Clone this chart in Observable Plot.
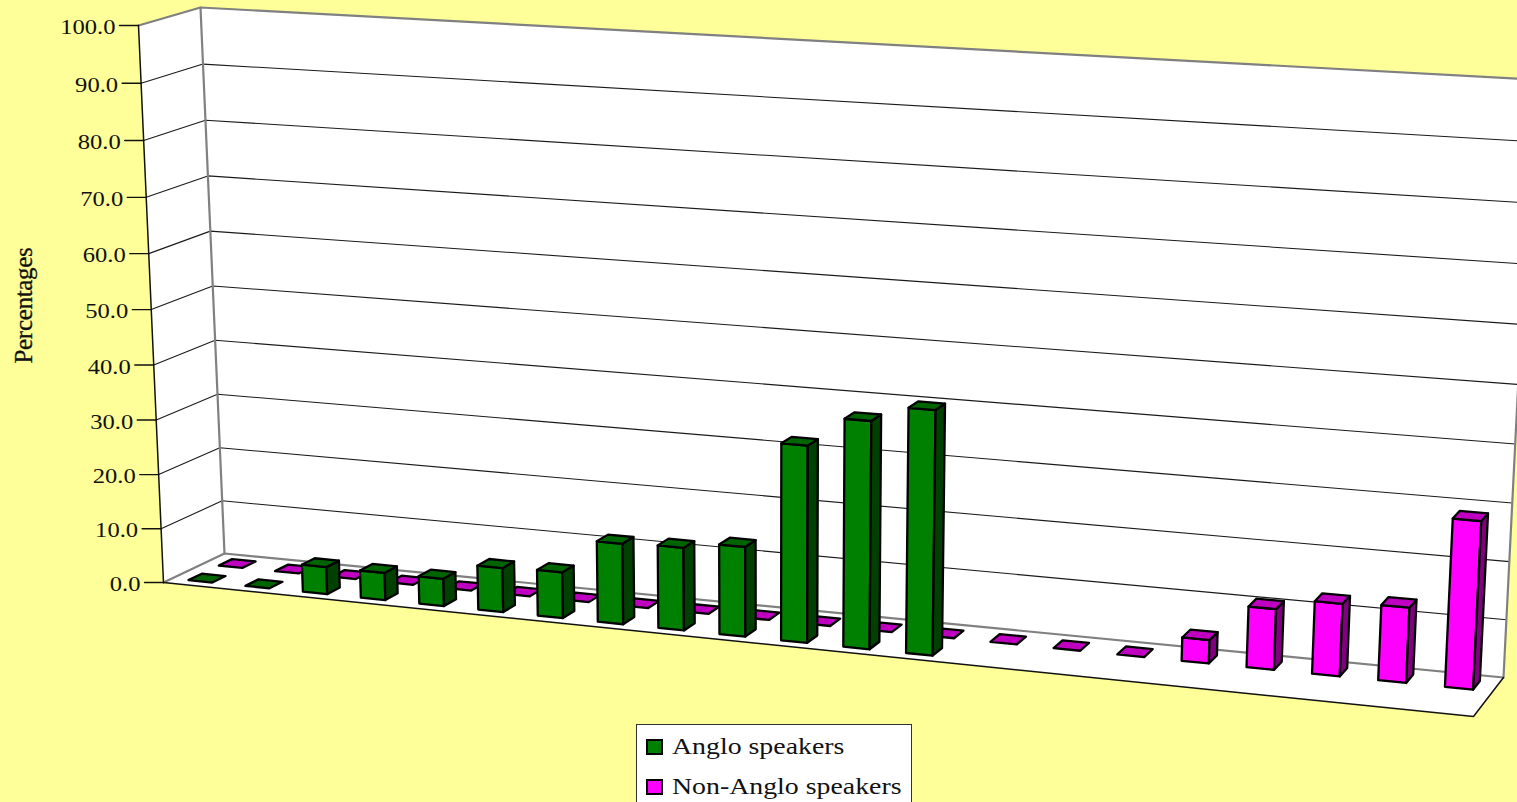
<!DOCTYPE html>
<html>
<head>
<meta charset="utf-8">
<script src="https://cdn.jsdelivr.net/npm/d3@7"></script>
<script src="https://cdn.jsdelivr.net/npm/@observablehq/plot@0.6"></script>
<style>
  html, body { margin: 0; padding: 0; background: #ffff99; overflow: hidden; }
  #chart { position: relative; width: 1517px; height: 802px; overflow: hidden; }
  #chart svg { display: block; }
  #legend {
    position: absolute; left: 636px; top: 724px; width: 274px; height: 90px;
    background: #fff; border: 1px solid #333;
    font: 23px "Liberation Serif", serif; color: #111;
  }
  #legend div { position: absolute; left: 35px; white-space: nowrap; line-height: 24px; }
  #legend span { display: inline-block; transform: scaleX(1.21); transform-origin: left center; }
  #legend i { position: absolute; left: -26px; top: 4px; width: 13px; height: 12px; border: 2px solid #000; }
</style>
</head>
<body>
<div id="chart">
  <div id="legend"></div>
</div>
<script>
// Share of each speaker group per category; a missing entry means no bar at all.
const categoryCount = 21;
const angloValues = [0, 0, 5, 5, 5, 8, 8.3, 14.5, 14.8, 16, 34.8, 40, 42.8];
const nonAngloValues = [0, 0, 0, 0, 0, 0, 0, 0, 0, 0, 0, 0, 0, 0, 0, 0, 4.1, 10.6, 12.6, 13, 28.8];
const valueTicks = [0, 10, 20, 30, 40, 50, 60, 70, 80, 90, 100];
const seriesNames = ["Anglo speakers", "Non-Anglo speakers"];
const seriesColors = [
  {front: "#008000", top: "#006400", side: "#004000"},
  {front: "#ff00ff", top: "#c000c0", side: "#800080"}
];
const yTitle = "Percentages";

// Screen positions of the eight box corners that set up the chart's perspective.
const floorQuad = {fl: [163, 582], fr: [1473, 716], br: [1503, 677], bl: [224, 553]};
const ceilingQuad = {fl: [138, 25], fr: [1503, 104], br: [1533, 79], bl: [200, 7]};
const widthForeshortening = -0.09; // slots widen towards the right
const heightForeshortening = -0.039; // value steps shrink towards the floor

function quadPoint(q, s, v) {
  const at = (k) => (1 - s) * ((1 - v) * q.fl[k] + v * q.bl[k]) + s * ((1 - v) * q.fr[k] + v * q.br[k]);
  return [at(0), at(1)];
}

// u runs along the categories, v into the depth, value up the axis.
function project(u, v, value) {
  const g = widthForeshortening, i = heightForeshortening, w = value / 100;
  const s = (u * (1 + g)) / (1 + g * u);
  const t = (w * (1 + i)) / (1 + i * w);
  const low = quadPoint(floorQuad, s, v), high = quadPoint(ceilingQuad, s, v);
  return [low[0] + t * (high[0] - low[0]), low[1] + t * (high[1] - low[1])];
}

// Polygon table: every wall and bar face becomes one closed outline.
function addFace(list, id, fill, stroke, pts) {
  for (const [u, v, val] of pts) {
    const [px, py] = project(u, v, val);
    list.push({id, fill, stroke, px, py});
  }
}

const walls = [];
addFace(walls, "left", "#fff", "none", [[0, 0, 0], [0, 1, 0], [0, 1, 100], [0, 0, 100]]);
addFace(walls, "back", "#fff", "none", [[0, 1, 0], [1, 1, 0], [1, 1, 100], [0, 1, 100]]);
addFace(walls, "floor", "#fff", "none", [[0, 0, 0], [1, 0, 0], [1, 1, 0], [0, 1, 0]]);

const faces = [];
const slot = 1 / categoryCount, barWidth = 0.42 * slot;
const rows = [{center: 0.25, depth: 0.22}, {center: 0.75, depth: 0.22}];

function addBars(values, seriesIndex) {
  const colors = seriesColors[seriesIndex], row = rows[seriesIndex];
  values.forEach((val, i) => {
    const u0 = (i + 0.5) * slot - barWidth / 2, u1 = u0 + barWidth;
    const v0 = row.center - row.depth / 2, v1 = v0 + row.depth;
    const key = `${seriesIndex}-${i}`;
    if (val > 0) {
      addFace(faces, key + "f", colors.front, "#000", [[u0, v0, 0], [u1, v0, 0], [u1, v0, val], [u0, v0, val]]);
      addFace(faces, key + "s", colors.side, "#000", [[u1, v0, 0], [u1, v1, 0], [u1, v1, val], [u1, v0, val]]);
    }
    addFace(faces, key + "t", colors.top, "#000", [[u0, v0, val], [u1, v0, val], [u1, v1, val], [u0, v1, val]]);
  });
}
// Back row first so the front row paints over it.
addBars(nonAngloValues, 1);
addBars(angloValues, 0);

// Grid lines on both walls, and the edges of the box.
const grid = valueTicks.slice(1, -1).flatMap((t) => [
  {id: t, p: project(0, 0, t)}, {id: t, p: project(0, 1, t)}, {id: t, p: project(1, 1, t)}
]);
const edge = (id, list) => list.map(([u, v, val]) => ({id, p: project(u, v, val)}));
const grayEdges = [
  ...edge("floorBack", [[0, 0, 0], [0, 1, 0], [1, 1, 0], [1, 1, 100]]),
  ...edge("top", [[0, 0, 100], [0, 1, 100], [1, 1, 100]]),
  ...edge("corner", [[0, 1, 0], [0, 1, 100]])
];
const blackEdges = [
  ...edge("axis", [[0, 0, 0], [0, 0, 100]]),
  ...edge("front", [[0, 0, 0], [1, 0, 0], [1, 1, 0]])
];
const tickLength = 19;
const ticks = valueTicks.flatMap((t) => {
  const [x, y] = project(0, 0, t);
  return [{id: t, x, y}, {id: t, x: x - tickLength, y}];
});
const tickLabels = valueTicks.map((t) => {
  const [x, y] = project(0, 0, t);
  return {label: t.toFixed(1), x: x - tickLength - 4, y: y + 2};
});

const poly = (data, options) => Plot.line(data, {x: "px", y: "py", z: "id", curve: "linear-closed", ...options});
const seg = (data, options) => Plot.line(data, {x: (d) => d.p[0], y: (d) => d.p[1], z: "id", ...options});

const svg = Plot.plot({
  width: 1517,
  height: 802,
  margin: 0,
  style: {background: "#ffff99", overflow: "hidden"},
  x: {type: "identity", axis: null},
  y: {type: "identity", axis: null},
  color: {type: "identity"},
  marks: [
    poly(walls, {fill: "fill", stroke: null}),
    seg(grid, {stroke: "#1a1a1a", strokeWidth: 1.1}),
    seg(grayEdges, {stroke: "#808080", strokeWidth: 2.2}),
    seg(blackEdges, {stroke: "#111", strokeWidth: 1.5}),
    Plot.line(ticks, {x: "x", y: "y", z: "id", stroke: "#111", strokeWidth: 1.3}),
    poly(faces, {fill: "fill", stroke: "stroke", strokeWidth: 2.3, strokeLinejoin: "round"}),
    Plot.text(tickLabels, {
      x: "x", y: "y", text: "label", textAnchor: "end", fontSize: 21,
      fontFamily: "Liberation Serif", fill: "#111"
    }),
    Plot.text([yTitle], {
      x: () => 23, y: () => 305, rotate: -90, fontSize: 25,
      fontFamily: "Liberation Serif", fill: "#111", stroke: "#111", strokeWidth: 0.3
    })
  ]
});
const chart = document.getElementById("chart");
chart.insertBefore(svg, chart.firstChild);

// The value labels run wider than the font's natural setting; the axis title runs tight.
svg.querySelectorAll("text").forEach((t) => {
  if (t.textContent === yTitle) {
    t.style.letterSpacing = "-0.3px";
  } else {
    t.setAttribute("textLength", t.getComputedTextLength() * 1.17);
    t.setAttribute("lengthAdjust", "spacingAndGlyphs");
  }
});

// Legend box, overlapping the bottom edge of the page.
const legend = d3.select("#legend");
seriesNames.forEach((name, i) => {
  const row = legend.append("div").style("top", `${10 + i * 40}px`);
  row.append("i").style("background", seriesColors[i].front);
  row.append("span").text(name);
});
</script>
</body>
</html>
